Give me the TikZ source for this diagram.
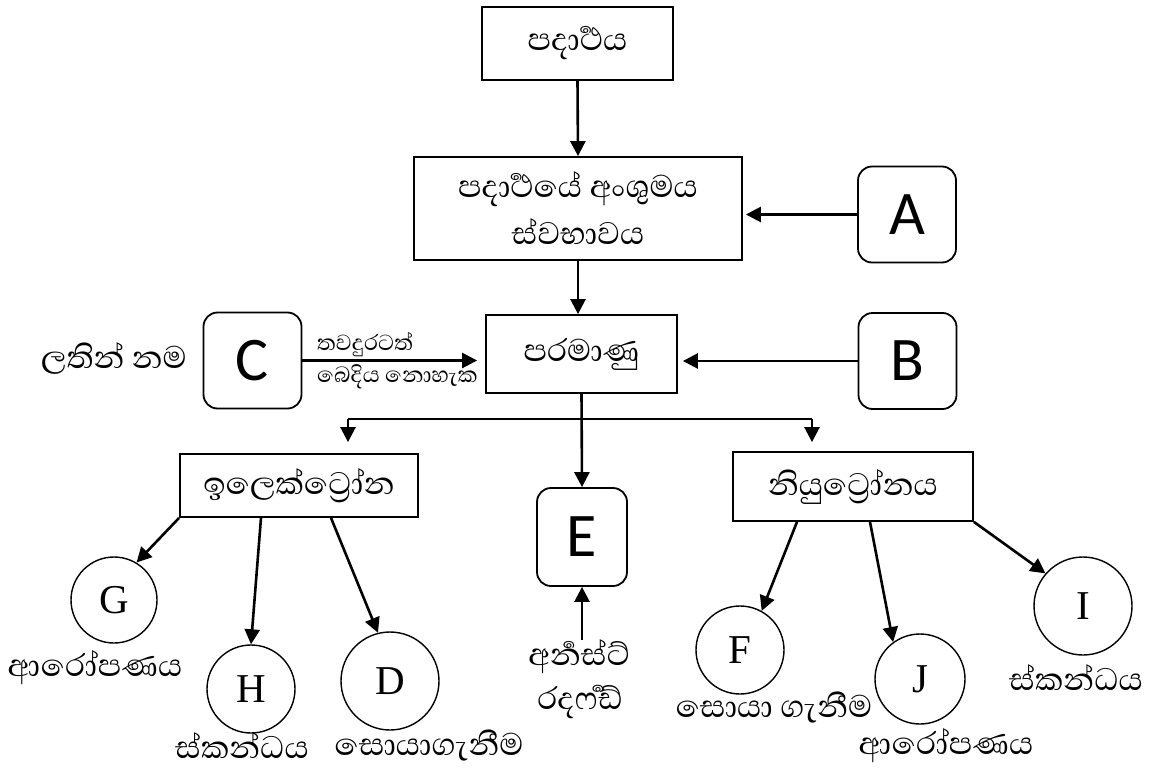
\documentclass[tikz,border=0pt]{standalone}
\usepackage{fontspec}
\usetikzlibrary{arrows.meta,calc}
\newfontfamily\sinfont[Script=Sinhala]{Abhaya Libre}
\newfontfamily\boxletter{Carlito}
\newfontfamily\ringletter{Liberation Serif}

\begin{document}
\begin{tikzpicture}[x=1pt,y=-1pt,
    sqbox/.style={draw, line width=1.8pt, inner sep=0pt, align=center,
                  font=\sinfont\fontsize{40}{47}\selectfont},
    letterbox/.style={draw, line width=1.8pt, rounded corners=14pt, inner sep=0pt,
                  minimum width=98pt, minimum height=96pt,
                  font=\boxletter\fontsize{62}{62}\selectfont},
    ring/.style={draw, circle, line width=1.4pt, inner sep=0pt,
                  font=\ringletter\fontsize{41}{41}\selectfont},
    tag/.style={inner sep=0pt, font=\sinfont\fontsize{40}{40}\selectfont},
    smalltag/.style={inner sep=0pt, font=\sinfont\fontsize{28}{28}\selectfont},
    arr/.style={line width=2.6pt, -{Triangle[length=15pt,width=15pt]}},
    ln/.style={line width=2.6pt}
  ]
            \useasboundingbox (0,0) rectangle (1151,771);
            % Main column
            \node[sqbox, minimum width=191pt, minimum height=73pt]  (matter) at (577.5, 43.5) {පදාර්^^^^200dථය};
            \node[sqbox, minimum width=328pt, minimum height=103pt] (nature) at (578, 208.5) {පදාර්^^^^200dථයේ අංශුමය\\ස්වභාවය};
            \node[sqbox, minimum width=191pt, minimum height=78pt]  (atom)   at (581.5, 354) {පරමාණු};
            % Lettered boxes
            \node[letterbox] (A) at (907, 214.5) {A};
            \node[letterbox] (B) at (907.5, 361) {B};
            \node[letterbox] (C) at (252.5, 360.5) {C};
            \node[letterbox, minimum width=90pt, minimum height=98pt] (E) at (582, 537) {E};
            \node[tag] (latin) at (114, 358) {ලතින් නම};
            \node[smalltag, anchor=west] (further) at (317, 345) {තවදුරටත්};
            \node[smalltag, anchor=west] (nodiv)   at (317, 377) {බෙදිය නොහැක};
            % Particles
            \node[sqbox, minimum width=238pt, minimum height=63pt] (elec) at (299, 485.5) {ඉලෙක්ට්^^^^200dරෝන};
            \node[sqbox, minimum width=240pt, minimum height=69pt] (neut) at (853, 486.5) {නියුට්^^^^200dරෝනය};
            \node[tag] (ernest) at (579, 657) {අර්^^^^200dනස්ට්};
            \node[tag] (ruther) at (580, 702) {රදර්^^^^200dෆඩ්};
            % Circles and their labels
            \node[ring, minimum size=86pt] (G) at (114, 600) {G};
            \node[ring, minimum size=88pt] (H) at (251, 689) {H};
            \node[ring, minimum size=98pt] (D) at (390, 681) {D};
            \node[ring, minimum size=88pt] (F) at (740, 650) {F};
            \node[ring, minimum size=90pt] (J) at (920, 679) {J};
            \node[ring, minimum size=98pt] (I) at (1083, 606) {I};
            \node[tag] (Gtag) at (95, 668)   {ආරෝපණය};
            \node[tag] (Htag) at (242, 746)  {ස්කන්ධය};
            \node[tag] (Dtag) at (429, 746)  {සොයාගැනීම};
            \node[tag] (Ftag) at (774, 708)  {සොයා ගැනීම};
            \node[tag] (Jtag) at (946, 746)  {ආරෝපණය};
            \node[tag] (Itag) at (1076, 678) {ස්කන්ධය};
            % Connectors
            \draw[arr] (matter.south) -- (nature.north);
            \draw[arr] (nature.south) -- (nature.south |- atom.north);
            \draw[arr, shorten >=3pt] (A.west) -- (A.west -| nature.east);
            \draw[arr, shorten >=5pt] (B.west) -- (B.west -| atom.east);
            \draw[arr, shorten >=8pt] (C.east) -- (C.east -| atom.west);
            \draw[arr] (atom.south) -- (E.north);
            \draw[arr] (E.south |- ernest.north) -- (E.south);
            % Split to particles
            \coordinate (eDrop) at (348, 419);
            \coordinate (nDrop) at (812, 419);
            \draw[ln] (eDrop) -- (nDrop);
            \draw[arr, shorten >=11pt] (eDrop) -- (eDrop |- elec.north);
            \draw[arr, shorten >=9pt]  (nDrop) -- (nDrop |- neut.north);
            % Particle properties
            \draw[arr] (elec.south west) -- (G.59);
            \draw[arr] ($(elec.south)+(-38,0)$) -- (H.north);
            \draw[arr] ($(elec.south)+(32,0)$) -- (D.104);
            \draw[arr] ($(neut.south)+(-56,0)$) -- (F.61);
            \draw[arr] ($(neut.south)+(17,0)$) -- (J.126);
            \draw[arr] (neut.south east) -- (I.139);
\end{tikzpicture}
\end{document}
